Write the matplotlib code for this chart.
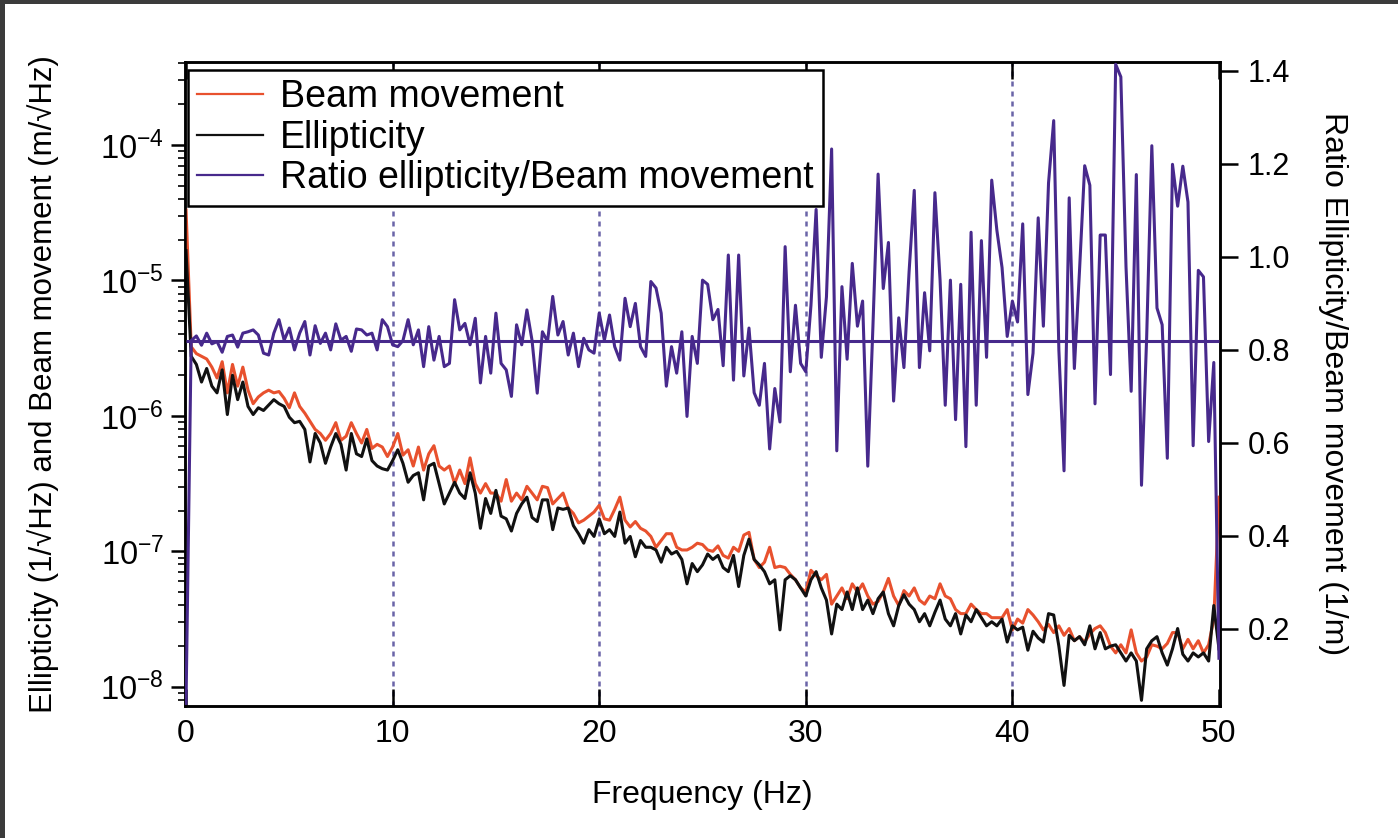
import numpy as np
import matplotlib
matplotlib.use("Agg")
import matplotlib.pyplot as plt
from matplotlib.ticker import LogLocator, FixedLocator, FuncFormatter, NullFormatter, FormatStrFormatter
from matplotlib.patches import Rectangle
from matplotlib.lines import Line2D

plt.rcParams['font.family'] = ['Liberation Sans', 'DejaVu Sans']
plt.rcParams['mathtext.default'] = 'regular'

# ---------------- data ----------------
freq_step = 0.25  # Hz, sampling of the spectra

# log10 of beam movement amplitude spectral density (m/sqrt(Hz))
beam_log10 = [
    -4.48, -5.49, -5.54, -5.56, -5.58, -5.64, -5.72, -5.60, -5.83, -5.62,
    -5.78, -5.64, -5.81, -5.91, -5.86, -5.83, -5.81, -5.83, -5.82, -5.87,
    -5.94, -5.83, -5.93, -5.98, -6.04, -6.10, -6.13, -6.18, -6.13, -6.05,
    -6.18, -6.15, -6.05, -6.13,
    -6.20, -6.10, -6.24, -6.21, -6.23, -6.30, -6.23, -6.13, -6.29, -6.25,
    -6.37, -6.23, -6.40, -6.28, -6.22, -6.37, -6.40, -6.37, -6.50, -6.40,
    -6.50, -6.31, -6.50, -6.57, -6.50, -6.57, -6.57, -6.63, -6.47, -6.63,
    -6.57, -6.62, -6.52,
    -6.57, -6.62, -6.52, -6.53, -6.65, -6.61, -6.57, -6.68, -6.72, -6.79,
    -6.77, -6.74, -6.71, -6.66, -6.76, -6.77, -6.69, -6.60, -6.77, -6.82,
    -6.78, -6.83, -6.85, -6.89, -6.97, -6.92, -6.87, -6.87, -6.97, -6.99,
    -6.99, -6.97, -6.94,
    -6.95, -6.99, -7.00, -6.96, -7.03, -7.05, -6.97, -7.00, -6.88, -6.86,
    -7.06, -7.12, -7.08, -6.97, -7.12, -7.11, -7.12, -7.17, -7.21, -7.27,
    -7.30, -7.14, -7.18, -7.21, -7.17, -7.39, -7.33, -7.27, -7.35, -7.24,
    -7.30, -7.24, -7.33, -7.39,
    -7.37, -7.30, -7.20, -7.33, -7.40, -7.29, -7.33, -7.27, -7.36, -7.39,
    -7.33, -7.35, -7.24, -7.33, -7.35, -7.43, -7.46, -7.46, -7.39, -7.43,
    -7.46, -7.46, -7.49, -7.49, -7.49, -7.43, -7.58, -7.50, -7.53, -7.43,
    -7.47, -7.52, -7.58,
    -7.54, -7.60, -7.55, -7.62, -7.57, -7.66, -7.63, -7.67, -7.61, -7.57,
    -7.55, -7.60, -7.70, -7.75, -7.69, -7.75, -7.58, -7.75, -7.81, -7.78,
    -7.69, -7.70, -7.72, -7.68, -7.60, -7.60, -7.72, -7.65, -7.72, -7.66,
    -7.75, -7.69, -7.50, -6.60,
]

# log10 of ellipticity amplitude spectral density (1/sqrt(Hz))
ellip_log10 = [
    -4.78, -5.56, -5.62, -5.75, -5.65, -5.78, -5.83, -5.66, -5.99, -5.70,
    -5.88, -5.75, -5.93, -5.99, -5.94, -5.96, -5.92, -5.88, -5.91, -5.93,
    -6.01, -6.05, -6.04, -6.10, -6.34, -6.13, -6.20, -6.35, -6.23, -6.13,
    -6.21, -6.40, -6.13, -6.28,
    -6.30, -6.17, -6.33, -6.37, -6.39, -6.40, -6.33, -6.25, -6.35, -6.49,
    -6.44, -6.42, -6.62, -6.37, -6.35, -6.50, -6.65, -6.57, -6.49, -6.57,
    -6.61, -6.42, -6.57, -6.83, -6.61, -6.72, -6.55, -6.74, -6.76, -6.85,
    -6.72, -6.65, -6.60,
    -6.75, -6.78, -6.62, -6.62, -6.84, -6.68, -6.69, -6.68, -6.81, -6.87,
    -6.94, -6.84, -6.89, -6.76, -6.87, -6.84, -6.89, -6.71, -6.94, -6.89,
    -7.04, -6.92, -6.97, -6.97, -6.99, -7.08, -6.97, -7.02, -7.00, -7.06,
    -7.24, -7.09, -7.15,
    -7.10, -7.02, -7.06, -7.03, -7.12, -7.15, -7.03, -7.26, -7.03, -6.91,
    -7.06, -7.10, -7.15, -7.24, -7.21, -7.58, -7.21, -7.18, -7.21, -7.27,
    -7.33, -7.21, -7.15, -7.27, -7.36, -7.61, -7.39, -7.43, -7.30, -7.43,
    -7.27, -7.43, -7.36, -7.46,
    -7.35, -7.30, -7.46, -7.55, -7.40, -7.32, -7.39, -7.43, -7.52, -7.46,
    -7.55, -7.45, -7.36, -7.50, -7.55, -7.46, -7.61, -7.47, -7.52, -7.43,
    -7.49, -7.55, -7.52, -7.55, -7.50, -7.67, -7.55, -7.58, -7.56, -7.73,
    -7.59, -7.64, -7.67,
    -7.46, -7.47, -7.70, -7.99, -7.62, -7.66, -7.63, -7.69, -7.55, -7.72,
    -7.60, -7.72, -7.70, -7.69, -7.75, -7.81, -7.75, -7.81, -8.10, -7.72,
    -7.66, -7.63, -7.75, -7.84, -7.72, -7.57, -7.76, -7.81, -7.75, -7.78,
    -7.75, -7.81, -7.40, -7.72,
]

# ratio ellipticity / beam movement (1/m)
ratio = [
    0.04, 0.82, 0.83, 0.81, 0.836, 0.813, 0.818, 0.795, 0.829, 0.832,
    0.806, 0.836, 0.839, 0.843, 0.832, 0.793, 0.789, 0.836, 0.865, 0.821,
    0.847, 0.80, 0.836, 0.861, 0.789, 0.852, 0.814, 0.836, 0.80, 0.856,
    0.821, 0.829, 0.797, 0.845,
    0.843, 0.832, 0.836, 0.80, 0.865, 0.85, 0.811, 0.807, 0.82, 0.865,
    0.811, 0.843, 0.764, 0.85, 0.778, 0.829, 0.764, 0.771, 0.908, 0.843,
    0.857, 0.811, 0.868, 0.729, 0.829, 0.75, 0.879, 0.771, 0.757, 0.70,
    0.854, 0.811, 0.886,
    0.82, 0.707, 0.839, 0.818, 0.915, 0.832, 0.861, 0.789, 0.836, 0.764,
    0.825, 0.80, 0.793, 0.879, 0.821, 0.875, 0.807, 0.778, 0.911, 0.85,
    0.90, 0.807, 0.786, 0.947, 0.933, 0.879, 0.722, 0.807, 0.75, 0.839,
    0.657, 0.829, 0.771,
    0.95, 0.941, 0.865, 0.887, 0.766, 1.004, 0.735, 1.004, 0.744, 0.847,
    0.708, 0.681, 0.771, 0.587, 0.717, 0.645, 1.022, 0.753, 0.896, 0.771,
    0.753, 0.896, 1.102, 0.784, 0.914, 1.232, 0.583, 0.936, 0.78, 0.986,
    0.851, 0.905, 0.55, 0.851,
    1.178, 0.932, 1.031, 0.69, 0.869, 0.762, 0.968, 1.143, 0.762, 0.923,
    0.798, 1.138, 0.95, 0.681, 0.95, 0.65, 0.941, 0.592, 1.053, 0.681,
    1.035, 0.784, 1.165, 1.057, 0.977, 0.829, 0.905, 0.86, 1.071, 0.704,
    0.793, 1.084, 0.851,
    1.159, 1.293, 0.80, 0.54, 1.127, 0.76, 0.971, 1.196, 1.154, 0.684,
    1.047, 1.047, 0.747, 1.414, 1.387, 0.979, 0.711, 1.177, 0.509, 0.827,
    1.239, 0.89, 0.854, 0.567, 1.199, 1.109, 1.195, 1.118, 0.594, 0.971,
    0.957, 0.603, 0.773, 0.137,
]
ratio_mean = 0.82

labels = ["Beam movement", "Ellipticity", "Ratio ellipticity/Beam movement"]
x_ticks = [0, 10, 20, 30, 40, 50]
x_grid = [10, 20, 30, 40]
ratio_ticks = [0.2, 0.4, 0.6, 0.8, 1.0, 1.2, 1.4]

# ---------------- styling ----------------
RED = '#E8512E'
BLACK = '#111111'
PURPLE = '#47298C'
GRIDC = '#6A64A8'
LW = 2.2

freq = np.arange(len(beam_log10)) * freq_step
beam = 10.0 ** np.array(beam_log10)
ellip = 10.0 ** np.array(ellip_log10)

W, H = 1398, 838
fig = plt.figure(figsize=(W / 100, H / 100), dpi=100)
fig.patch.set_facecolor('white')
# dark frame of the screenshot (top and left edges)
fig.patches.append(Rectangle((0, 1 - 4 / H), 1, 4 / H, transform=fig.transFigure,
                             facecolor='#3b3b3b', edgecolor='none', zorder=0))
fig.patches.append(Rectangle((0, 0), 5 / W, 1, transform=fig.transFigure,
                             facecolor='#3b3b3b', edgecolor='none', zorder=0))

ax_l, ax_r, ax_t, ax_b = 185, 1220, 62, 706
ax = fig.add_axes([ax_l / W, 1 - ax_b / H, (ax_r - ax_l) / W, (ax_b - ax_t) / H])
ax2 = ax.twinx()

ax.set_xlim(-0.05, 50.05)
ax.set_yscale('log')
ax.set_ylim(10 ** -8.142, 10 ** -3.387)
ax2.set_ylim(0.0344, 1.419)

for xv in x_grid:
    ax.axvline(xv, color=GRIDC, lw=1.8, ls=(0, (2.0, 2.0)), zorder=0)

ax.plot(freq, beam, color=RED, lw=LW, zorder=3)
ax.plot(freq, ellip, color=BLACK, lw=LW, zorder=4)
ax2.plot(freq, ratio, color=PURPLE, lw=LW, zorder=3)
ax2.hlines(ratio_mean, freq[0], freq[-1], color=PURPLE, lw=LW, zorder=3)

# x axis
ax.xaxis.set_major_locator(FixedLocator(x_ticks))
ax.tick_params(axis='x', which='both', direction='in', top=True, bottom=True,
               length=12, width=1.8, labelsize=23, pad=9)
# left log axis
ax.yaxis.set_major_locator(LogLocator(base=10, numticks=20))
ax.yaxis.set_minor_locator(LogLocator(base=10, subs=np.arange(2, 10), numticks=20))
ax.yaxis.set_minor_formatter(NullFormatter())
ax.yaxis.set_major_formatter(FuncFormatter(lambda v, p: r'$10^{%d}$' % int(round(np.log10(v)))))
ax.tick_params(axis='y', which='major', direction='out', length=10, width=1.8,
               labelsize=23.5, pad=5)
ax.tick_params(axis='y', which='minor', direction='out', length=5, width=1.2)
# right axis
ax2.yaxis.set_major_locator(FixedLocator(ratio_ticks))
ax2.yaxis.set_major_formatter(FormatStrFormatter('%.1f'))
ax2.tick_params(axis='y', direction='out', length=13, width=1.8, labelsize=22, pad=7)

for a in (ax, ax2):
    for s in a.spines.values():
        s.set_linewidth(1.8)
        s.set_color('black')

ax.set_xlabel('Frequency (Hz)', fontsize=23)
ax.xaxis.set_label_coords(0.5, -0.115)
ax.set_ylabel('Ellipticity (1/\u221aHz) and Beam movement (m/\u221aHz)', fontsize=22.5)
ax.yaxis.set_label_coords(-0.122, 0.5)
ax2.set_ylabel('Ratio Ellipticity/Beam movement (1/m)', fontsize=23, rotation=270, va='bottom')
ax2.yaxis.set_label_coords(1.095, 0.5)

handles = [Line2D([], [], color=RED, lw=1.6),
           Line2D([], [], color=BLACK, lw=1.6),
           Line2D([], [], color=PURPLE, lw=1.6)]
leg = ax2.legend(handles, labels, loc='upper left',
                 bbox_to_anchor=(3 / (ax_r - ax_l), 1 - 8 / (ax_b - ax_t)),
                 fontsize=27, frameon=True, fancybox=False, edgecolor='black',
                 framealpha=1, borderaxespad=0, handlelength=1.75,
                 handletextpad=0.45, labelspacing=0.12, borderpad=0.25)
leg.get_frame().set_linewidth(1.8)
leg.set_zorder(10)

fig.savefig('out.png', dpi=100)
